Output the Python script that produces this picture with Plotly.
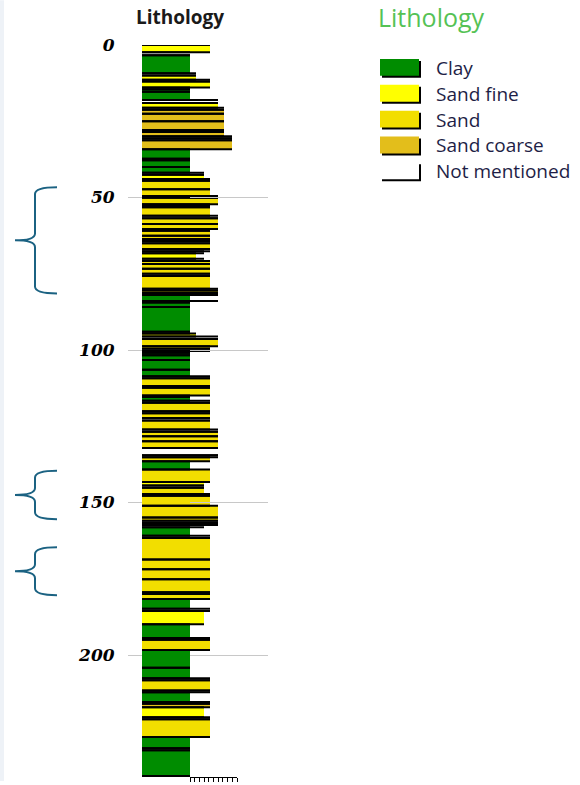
import plotly.graph_objects as go

# ---- borehole log: layer intervals (m), lithology and grain class ----
top_m = [0.0, 2.4, 3.4, 9.3, 10.0, 11.4, 12.0, 13.9, 14.5, 15.3,
         18.0, 19.0, 20.6, 21.2, 22.5, 25.0, 27.9, 28.5, 29.9, 30.55,
         31.2, 34.2, 37.3, 37.8, 40.0, 41.9, 42.5, 43.9, 44.5, 47.3,
         49.5, 50.1, 52.2, 52.7, 53.2, 56.0, 56.8, 58.7, 60.3, 60.9,
         62.5, 63.6, 64.3, 65.0, 66.9, 67.6, 68.3, 70.1, 70.8, 71.8,
         73.4, 75.0, 75.7, 79.9, 80.5, 81.3, 82.0, 82.0, 84.4, 85.9,
         94.0, 94.6, 95.6, 96.4, 98.8, 99.6, 100.3, 100.9, 101.7, 103.3,
         106.5, 108.6, 109.3, 111.8, 112.4, 114.9, 115.4, 116.6, 117.3, 120.1,
         120.7, 122.3, 123.1, 126.1, 126.8, 128.3, 129.9, 132.1, 134.5, 135.2,
         136.5, 139.2, 143.3, 144.4, 145.2, 147.2, 147.8, 151.1, 154.9, 156.0,
         156.7, 157.4, 158.1, 160.9, 161.6, 168.7, 171.9, 175.2, 179.4, 180.0,
         181.6, 184.8, 185.6, 189.9, 194.4, 195.0, 198.4, 204.2, 207.6, 208.3,
         211.6, 212.2, 215.4, 216.0, 217.1, 220.4, 221.1, 226.9, 230.6, 231.2]

bottom_m = [2.4, 3.4, 9.3, 10.0, 11.4, 12.0, 13.9, 14.5, 15.3, 18.0,
            19.0, 20.6, 21.2, 22.5, 25.0, 27.9, 28.5, 29.9, 30.55, 31.2,
            34.2, 37.3, 37.8, 40.0, 41.9, 42.5, 43.9, 44.5, 47.3, 49.5,
            50.1, 52.2, 52.7, 53.2, 56.0, 56.8, 58.7, 60.3, 60.9, 62.5,
            63.6, 64.3, 65.0, 66.9, 67.6, 68.3, 70.1, 70.8, 71.8, 73.4,
            75.0, 75.7, 79.9, 80.5, 81.3, 82.0, 84.4, 83.9, 85.9, 94.0,
            94.6, 95.6, 96.4, 98.8, 99.6, 100.3, 100.9, 101.7, 103.3, 106.5,
            108.6, 109.3, 111.8, 112.4, 114.9, 115.4, 116.6, 117.3, 120.1, 120.7,
            122.3, 123.1, 126.1, 126.8, 128.3, 129.9, 132.1, 134.5, 135.2, 136.5,
            139.2, 143.3, 144.4, 145.2, 147.2, 147.8, 151.1, 154.9, 156.0, 156.7,
            157.4, 158.1, 160.9, 161.6, 168.7, 171.9, 175.2, 179.4, 180.0, 181.6,
            184.8, 185.6, 189.9, 194.4, 195.0, 198.4, 204.2, 207.6, 208.3, 211.6,
            212.2, 215.4, 216.0, 217.1, 220.4, 221.1, 226.9, 230.6, 231.2, 239.7]

lithology = ["Sand fine", "Not mentioned", "Clay", "Not mentioned", "Sand fine", "Not mentioned", "Sand fine", "Not mentioned", "Clay", "Clay",
             "Not mentioned", "Sand fine", "Not mentioned", "Sand coarse", "Sand coarse", "Sand coarse", "Not mentioned", "Sand coarse", "Not mentioned", "Not mentioned",
             "Sand coarse", "Clay", "Not mentioned", "Clay", "Clay", "Not mentioned", "Sand fine", "Not mentioned", "Sand", "Sand",
             "Not mentioned", "Sand", "Not mentioned", "Not mentioned", "Sand", "Not mentioned", "Sand", "Sand", "Not mentioned", "Sand",
             "Sand", "Not mentioned", "Not mentioned", "Sand", "Not mentioned", "Not mentioned", "Sand fine", "Not mentioned", "Sand", "Sand",
             "Sand", "Not mentioned", "Sand", "Not mentioned", "Sand", "Not mentioned", "Clay", "Not mentioned", "Clay", "Clay",
             "Not mentioned", "Sand fine", "Not mentioned", "Sand", "Sand", "Not mentioned", "Not mentioned", "Clay", "Clay", "Clay",
             "Clay", "Not mentioned", "Sand", "Not mentioned", "Sand", "Not mentioned", "Clay", "Not mentioned", "Sand", "Not mentioned",
             "Sand", "Not mentioned", "Sand", "Not mentioned", "Sand", "Sand", "Sand", "Not mentioned", "Not mentioned", "Sand",
             "Clay", "Sand", "Sand fine", "Not mentioned", "Sand", "Not mentioned", "Sand", "Sand", "Sand", "Not mentioned",
             "Not mentioned", "Not mentioned", "Clay", "Not mentioned", "Sand", "Sand", "Sand", "Sand", "Not mentioned", "Sand",
             "Clay", "Not mentioned", "Sand fine", "Clay", "Not mentioned", "Sand", "Clay", "Clay", "Not mentioned", "Sand",
             "Not mentioned", "Clay", "Not mentioned", "Sand coarse", "Sand fine", "Not mentioned", "Sand", "Clay", "Not mentioned", "Clay"]

grain = ["m", "cl", "cl", "vf", "vf", "m", "m", "cl", "cl", "cl",
         "mc", "mc", "c", "c", "c", "c", "c", "c", "vc", "vc",
         "vc", "cl", "cl", "cl", "cl", "f", "f", "m", "m", "m",
         "mc", "mc", "m", "m", "m", "mc", "mc", "mc", "m", "m",
         "m", "m", "m", "m", "m", "f", "vf", "f", "m", "m",
         "m", "m", "m", "mc", "mc", "mc", "cl", "mc", "cl", "cl",
         "cl", "vf", "mc", "mc", "m", "m", "cl", "cl", "cl", "cl",
         "cl", "m", "m", "m", "m", "cl", "cl", "m", "m", "m",
         "m", "m", "m", "mc", "mc", "mc", "mc", "mc", "mc", "m",
         "cl", "m", "f", "f", "f", "m", "m", "mc", "mc", "mc",
         "mc", "f", "cl", "m", "m", "m", "m", "m", "m", "m",
         "cl", "m", "f", "cl", "m", "m", "cl", "cl", "m", "m",
         "m", "cl", "m", "m", "f", "m", "m", "cl", "cl", "cl"]

legend_items = ["Clay", "Sand fine", "Sand", "Sand coarse", "Not mentioned"]
depth_ticks = [0, 50, 100, 150, 200]
bracket_depths = [(46.6, 81.5), (139.6, 155.5), (164.7, 180.4)]

# ---- styling ----
fill = {"Clay": "#008C00", "Sand fine": "#FFFF00", "Sand": "#F2DE00",
        "Sand coarse": "#E3BE1B", "Not mentioned": "#FFFFFF"}
bar_len = {"cl": 48, "vf": 54, "f": 62, "m": 68, "mc": 76, "c": 82, "vc": 90}

W, H = 580, 785
PL, PR, PT, PB = 128, 268, 45, 781          # plot area in pixels
DEPTH_MAX = 240


def px_x(x):
    return (x - PL) / (PR - PL)


def px_y(y):
    return 1 - (y - PT) / (PB - PT)


fig = go.Figure()

# filled layers
for name in ["Clay", "Sand fine", "Sand", "Sand coarse"]:
    idx = [i for i, l in enumerate(lithology) if l == name]
    fig.add_trace(go.Bar(
        orientation="h", base=0,
        x=[bar_len[grain[i]] for i in idx],
        y=[(top_m[i] + bottom_m[i]) / 2 for i in idx],
        width=[bottom_m[i] - top_m[i] for i in idx],
        marker=dict(color=fill[name], line=dict(width=0)),
        showlegend=False, hoverinfo="skip"))

# black top/bottom edges of every layer
bx, by = [], []
for t, b, g in zip(top_m, bottom_m, grain):
    for d in (t, b):
        bx += [0, bar_len[g], None]
        by += [d, d, None]
fig.add_trace(go.Scatter(x=bx, y=by, mode="lines",
                         line=dict(color="black", width=2),
                         showlegend=False, hoverinfo="skip"))

# grain-size ruler at the foot of the column
fig.add_trace(go.Scatter(x=[], y=[], xaxis="x2", yaxis="y", showlegend=False))

shapes = []
# legend swatches with drop edge
for k, name in enumerate(legend_items):
    y0 = 59 + 26 * k
    shapes.append(dict(type="rect", xref="paper", yref="paper",
                       x0=px_x(382), x1=px_x(421), y0=px_y(y0 + 2), y1=px_y(y0 + 19),
                       fillcolor="black", line=dict(width=0), layer="above"))
    shapes.append(dict(type="rect", xref="paper", yref="paper",
                       x0=px_x(380), x1=px_x(419), y0=px_y(y0), y1=px_y(y0 + 17),
                       fillcolor=fill[name], line=dict(width=0), layer="above"))

# curly brackets marking depth intervals
xe, xv, xt, r = px_x(57), px_x(35), px_x(15), 7
for d0, d1 in bracket_depths:
    yt = PT + d0 * (PB - PT) / DEPTH_MAX
    yb = PT + d1 * (PB - PT) / DEPTH_MAX
    ym = (yt + yb) / 2
    path = (f"M {xe},{px_y(yt)} Q {xv},{px_y(yt)} {xv},{px_y(yt + r)} "
            f"L {xv},{px_y(ym - r)} Q {xv},{px_y(ym)} {xt},{px_y(ym)} "
            f"Q {xv},{px_y(ym)} {xv},{px_y(ym + r)} "
            f"L {xv},{px_y(yb - r)} Q {xv},{px_y(yb)} {xe},{px_y(yb)}")
    shapes.append(dict(type="path", xref="paper", yref="paper", path=path,
                       line=dict(color="#1B6282", width=2)))

# faint strip on the left edge
shapes.append(dict(type="rect", xref="paper", yref="paper",
                   x0=px_x(0), x1=px_x(4), y0=px_y(H), y1=px_y(0),
                   fillcolor="#EEF2F7", line=dict(width=0), layer="below"))

annotations = [
    dict(text="<b>Lithology</b>", xref="paper", yref="paper",
         x=px_x(180), y=px_y(17), showarrow=False, xanchor="center", yanchor="middle",
         font=dict(family="Open Sans", size=19, color="#1A1A1A")),
    dict(text="Lithology", xref="paper", yref="paper",
         x=px_x(431), y=px_y(17), showarrow=False, xanchor="center", yanchor="middle",
         font=dict(family="Open Sans", size=25, color="#55C255")),
]
for k, name in enumerate(legend_items):
    annotations.append(dict(text=name, xref="paper", yref="paper",
                            x=px_x(434), y=px_y(68 + 26 * k), showarrow=False,
                            xanchor="left", yanchor="middle",
                            font=dict(family="Open Sans", size=19, color="#1E1E46")))

fig.update_layout(
    width=W, height=H,
    margin=dict(l=PL, r=W - PR, t=PT, b=H - PB, pad=0),
    paper_bgcolor="white", plot_bgcolor="rgba(0,0,0,0)",
    barmode="overlay", bargap=0,
    showlegend=False,
    xaxis=dict(range=[-14, 126], showgrid=False, zeroline=False,
               showticklabels=False, ticks="", showline=False, fixedrange=True),
    xaxis2=dict(domain=[px_x(190), px_x(237)], anchor="y", range=[0, 10],
                tickvals=list(range(11)), ticks="outside", ticklen=4, tickwidth=1,
                tickcolor="black", showline=True, linecolor="black", linewidth=1,
                showticklabels=False, showgrid=False, zeroline=False),
    yaxis=dict(range=[DEPTH_MAX, 0], tickvals=depth_ticks,
               showgrid=True, gridcolor="#C8C8C8", gridwidth=1,
               zeroline=False, showline=False,
               ticks="outside", ticklen=9, tickcolor="rgba(0,0,0,0)",
               tickfont=dict(family="DejaVu Serif", size=17, color="black",
                             weight="bold", style="italic")),
    shapes=shapes,
    annotations=annotations,
)

fig.write_html("out.html")
